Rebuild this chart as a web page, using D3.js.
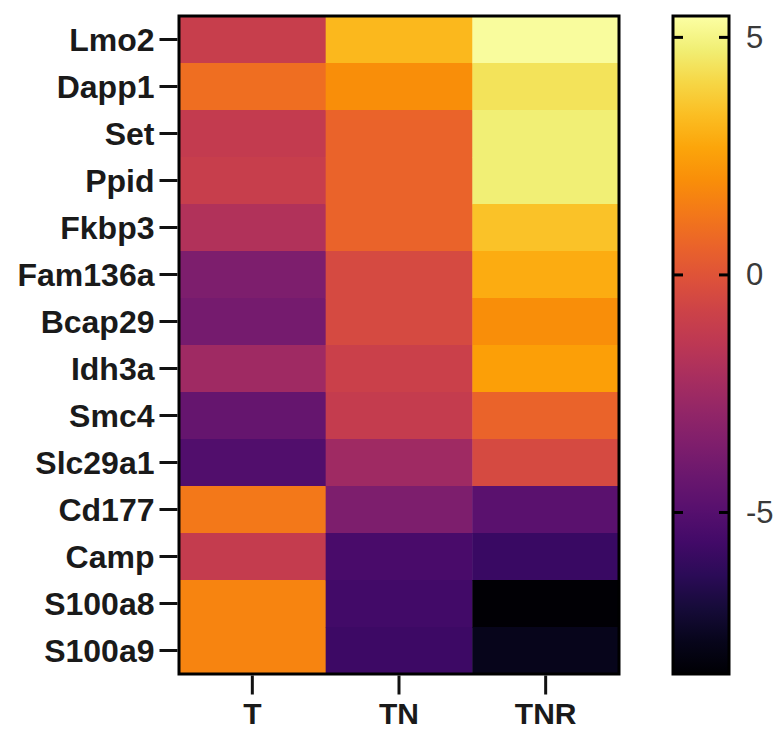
<!DOCTYPE html>
<html>
<head>
<meta charset="utf-8">
<script src="https://cdn.jsdelivr.net/npm/d3@7"></script>
<style>
    body { margin: 0; background: #fff; }
    svg { display: block; }
    .row-label, .col-label { font-family: "Liberation Sans", Arial, sans-serif; font-weight: bold; fill: #1a1a1a; }
    .cbar-label { font-family: "Liberation Sans", Arial, sans-serif; fill: #3a3a3a; }
</style>
</head>
<body>
<div id="chart"></div>
<script>

// Data ///////////////////////////////////////////////////////////////////////

const genes = ["Lmo2", "Dapp1", "Set", "Ppid", "Fkbp3", "Fam136a", "Bcap29",
    "Idh3a", "Smc4", "Slc29a1", "Cd177", "Camp", "S100a8", "S100a9"];
const groups = ["T", "TN", "TNR"];

const valuesT   = [-1.0, 1.0, -1.2, -1.0, -1.8, -3.6, -3.9, -2.5, -4.4, -5.1, 1.3, -1.1, 1.7, 1.7];
const valuesTN  = [3.2, 2.0, 0.6, 0.6, 0.6, -0.4, -0.4, -0.9, -1.1, -2.5, -3.6, -5.4, -5.6, -5.8];
const valuesTNR = [5.3, 4.4, 4.8, 4.8, 3.5, 2.9, 2.0, 2.5, 0.6, -0.4, -4.8, -5.9, -8.3, -7.7];

const colorDomain = [-8.4, 5.45];
const colorTicks = [-5, 0, 5];

const params = {
    width: 784,
    height: 732,
    left: 179,
    right: 619,
    top: 16,
    bottom: 674,
    cbarLeft: 673,
    cbarWidth: 56
};


// Scales /////////////////////////////////////////////////////////////////////

const cells = groups.flatMap((g, j) => {
    const vals = [valuesT, valuesTN, valuesTNR][j];
    return genes.map((gene, i) => ({ gene, group: g, value: vals[i] }));
});

const x = d3.scaleBand()
    .domain(groups)
    .range([params.left, params.right]);

const y = d3.scaleBand()
    .domain(genes)
    .range([params.top, params.bottom]);

const color = d3.scaleSequential(d3.interpolateInferno)
    .domain(colorDomain);

const cy = d3.scaleLinear()
    .domain(colorDomain)
    .range([params.bottom, params.top]);


// Render /////////////////////////////////////////////////////////////////////

const svg = d3.select("#chart")
    .append("svg")
        .attr("width", params.width)
        .attr("height", params.height)
        .attr("viewBox", [0, 0, params.width, params.height]);

svg.append("g")
    .selectAll("rect")
    .data(cells)
    .join("rect")
        .attr("x", d => x(d.group))
        .attr("y", d => y(d.gene))
        .attr("width", x.bandwidth() + 0.5)
        .attr("height", y.bandwidth() + 0.5)
        .attr("fill", d => color(d.value));

svg.append("rect")
    .attr("x", params.left)
    .attr("y", params.top)
    .attr("width", params.right - params.left)
    .attr("height", params.bottom - params.top)
    .attr("fill", "none")
    .attr("stroke", "#000")
    .attr("stroke-width", 3);

// Row axis
const yAxis = svg.append("g")
    .attr("transform", `translate(${params.left - 1.5},0)`)
    .call(d3.axisLeft(y).tickSize(18).tickPadding(5));
yAxis.select(".domain").remove();
yAxis.selectAll(".tick line").attr("stroke", "#111").attr("stroke-width", 3);
yAxis.selectAll(".tick text")
    .attr("class", "row-label")
    .attr("font-size", 32)
    .attr("dy", "0.35em");

// Column axis
const xAxis = svg.append("g")
    .attr("transform", `translate(0,${params.bottom + 1.5})`)
    .call(d3.axisBottom(x).tickSize(19).tickPadding(8));
xAxis.select(".domain").remove();
xAxis.selectAll(".tick line").attr("stroke", "#111").attr("stroke-width", 3);
xAxis.selectAll(".tick text")
    .attr("class", "col-label")
    .attr("font-size", 30);

// Colour bar
const grad = svg.append("defs")
    .append("linearGradient")
        .attr("id", "cbar-grad")
        .attr("x1", 0).attr("y1", 1)
        .attr("x2", 0).attr("y2", 0);

grad.selectAll("stop")
    .data(d3.range(0, 1.0001, 0.05))
    .join("stop")
        .attr("offset", d => d)
        .attr("stop-color", d => d3.interpolateInferno(d));

svg.append("rect")
    .attr("x", params.cbarLeft)
    .attr("y", params.top)
    .attr("width", params.cbarWidth)
    .attr("height", params.bottom - params.top)
    .attr("fill", "url(#cbar-grad)")
    .attr("stroke", "#000")
    .attr("stroke-width", 3);

const cbarTicks = svg.append("g");
cbarTicks.selectAll("line.l")
    .data(colorTicks)
    .join("line")
        .attr("class", "l")
        .attr("x1", params.cbarLeft)
        .attr("x2", params.cbarLeft + 10)
        .attr("y1", d => cy(d))
        .attr("y2", d => cy(d))
        .attr("stroke", "#000")
        .attr("stroke-width", 3);
cbarTicks.selectAll("line.r")
    .data(colorTicks)
    .join("line")
        .attr("class", "r")
        .attr("x1", params.cbarLeft + params.cbarWidth - 10)
        .attr("x2", params.cbarLeft + params.cbarWidth)
        .attr("y1", d => cy(d))
        .attr("y2", d => cy(d))
        .attr("stroke", "#000")
        .attr("stroke-width", 3);

const cAxis = svg.append("g")
    .attr("transform", `translate(${params.cbarLeft + params.cbarWidth},0)`)
    .call(d3.axisRight(cy).tickValues(colorTicks).tickSize(0).tickPadding(17)
        .tickFormat(d => String(d)));
cAxis.select(".domain").remove();
cAxis.selectAll(".tick text")
    .attr("class", "cbar-label")
    .attr("font-size", 31);

</script>
</body>
</html>
